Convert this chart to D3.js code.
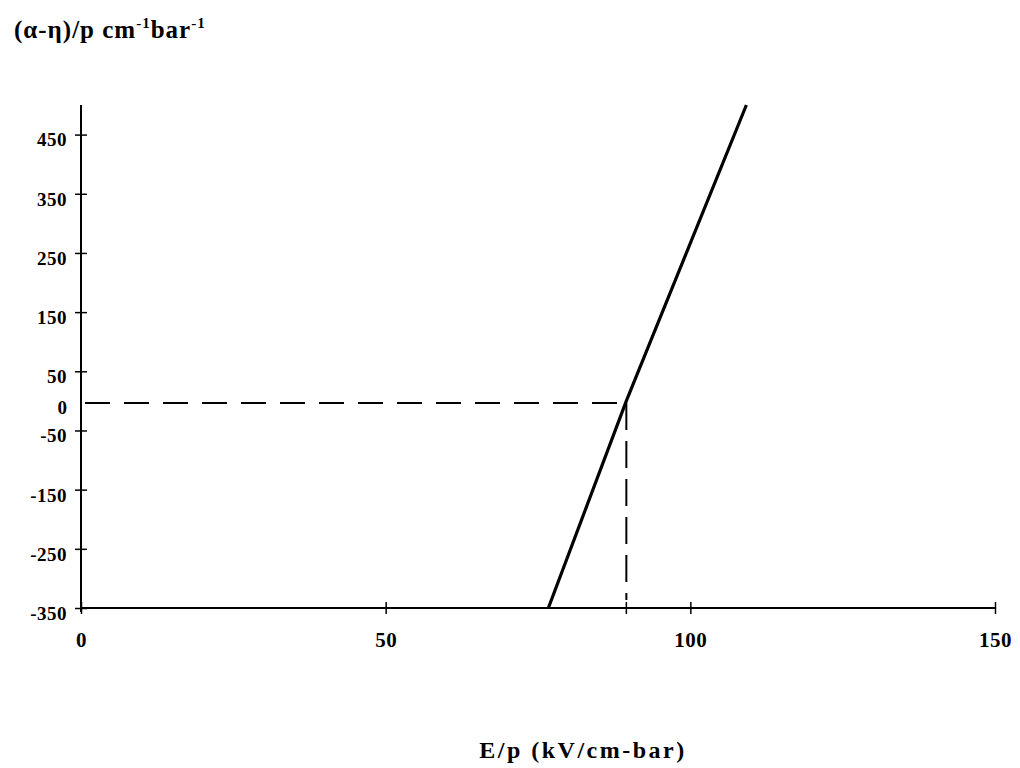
<!DOCTYPE html>
<html>
<head>
<meta charset="utf-8">
<script src="https://d3js.org/d3.v7.min.js"></script>
<style>
  body { margin: 0; background: #fff; }
  text { font-family: "Liberation Serif", "DejaVu Serif", serif; font-weight: bold; fill: #000; }
</style>
</head>
<body>
<script>
// values
var xTickLabels = [0, 50, 100, 150];
var yTickValues = [450, 350, 250, 150, 50, -50, -150, -250, -350];
var lineX = [76.7, 89.5, 109.2];
var lineY = [-350, 0, 500];
var crossX = 89.5, crossY = 0;

var w = 1020, h = 768;
var svg = d3.select("body").append("svg").attr("width", w).attr("height", h);

var x = d3.scaleLinear().domain([0, 150]).range([81, 995]);
var y = d3.scaleLinear().domain([-350, 500]).range([608, 105]);

// y axis
var yAxis = svg.append("g").attr("transform", "translate(" + x(0) + ",0)")
  .call(d3.axisLeft(y).tickValues(yTickValues).tickSize(0).tickPadding(14).tickFormat(function(d) { return String(d); }));
yAxis.attr("font-family", null).attr("font-size", 19);
yAxis.select(".domain").remove();
yAxis.selectAll("text").attr("dy", "0.6em").style("letter-spacing", "0.5px");
yAxis.selectAll(".tick").append("line").attr("x1", -6).attr("x2", 6).attr("stroke", "#000").attr("stroke-width", 1.5);
// label 0 without tick
yAxis.append("text").attr("x", -14).attr("y", y(0) + 13).attr("text-anchor", "end").text("0");
svg.append("line").attr("x1", x(0)).attr("x2", x(0)).attr("y1", y(500)).attr("y2", y(-350) + 4)
  .attr("stroke", "#000").attr("stroke-width", 2);

// x axis
var xAxis = svg.append("g").attr("transform", "translate(0," + y(-350) + ")")
  .call(d3.axisBottom(x).tickValues(xTickLabels).tickSize(0).tickPadding(24).tickFormat(function(d) { return String(d); }));
xAxis.attr("font-family", null).attr("font-size", 21);
xAxis.select(".domain").remove();
xAxis.selectAll("text").style("letter-spacing", "0.5px");
xAxis.selectAll(".tick").append("line").attr("y1", -6).attr("y2", 6).attr("stroke", "#000").attr("stroke-width", 1.5);
xAxis.append("line").attr("x1", x(crossX)).attr("x2", x(crossX)).attr("y1", -6).attr("y2", 6)
  .attr("stroke", "#000").attr("stroke-width", 1.5);
svg.append("line").attr("x1", x(0)).attr("x2", x(150)).attr("y1", y(-350)).attr("y2", y(-350))
  .attr("stroke", "#000").attr("stroke-width", 2);

// dashed guides
svg.append("line").attr("x1", x(0) + 4).attr("x2", x(crossX) + 4).attr("y1", y(crossY) + 2).attr("y2", y(crossY) + 2)
  .attr("stroke", "#000").attr("stroke-width", 2).attr("stroke-dasharray", "25,14");
svg.append("line").attr("x1", x(crossX)).attr("x2", x(crossX)).attr("y1", y(crossY) + 2).attr("y2", y(-350) - 8)
  .attr("stroke", "#000").attr("stroke-width", 2).attr("stroke-dasharray", "27,11");

// main line
var pts = lineX.map(function(d, i) { return [d, lineY[i]]; });
svg.append("path").datum(pts)
  .attr("d", d3.line().x(function(d) { return x(d[0]); }).y(function(d) { return y(d[1]); }))
  .attr("fill", "none").attr("stroke", "#000").attr("stroke-width", 3.2);

// titles
var yt = svg.append("text").attr("x", 14).attr("y", 38).style("font-size", "25px").style("letter-spacing", "1px");
yt.append("tspan").text("(α-η)/p cm");
yt.append("tspan").attr("dy", -10).style("font-size", "15px").text("-1");
yt.append("tspan").attr("dy", 10).text("bar");
yt.append("tspan").attr("dy", -10).style("font-size", "15px").text("-1");

svg.append("text").attr("x", 583).attr("y", 758).attr("text-anchor", "middle")
  .style("font-size", "24px").style("letter-spacing", "2.5px").text("E/p (kV/cm-bar)");
</script>
</body>
</html>
